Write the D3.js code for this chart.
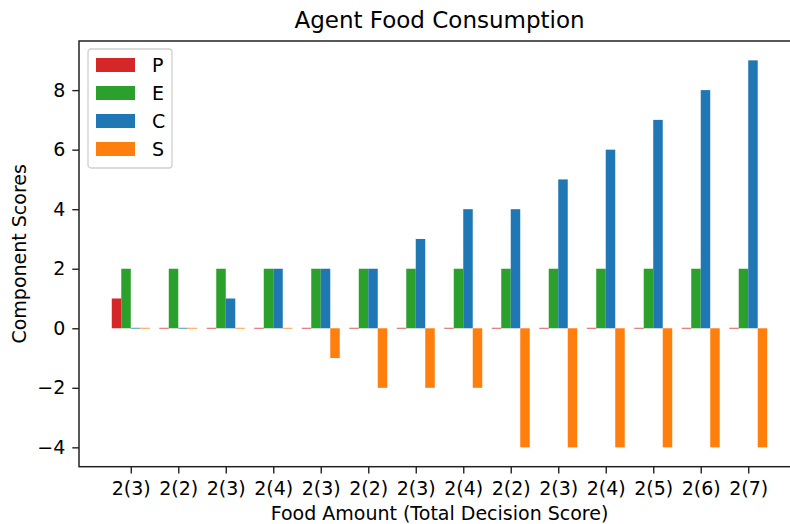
<!DOCTYPE html>
<html>
<head>
<meta charset="utf-8">
<script src="https://cdn.jsdelivr.net/npm/d3@7/dist/d3.min.js"></script>
<style>
  body { margin: 0; background: #fff; }
  svg { display: block; font-family: "DejaVu Sans", sans-serif; }
</style>
</head>
<body>
<div id="chart"></div>
<script>
// x tick labels: food amount (total decision score)
const categories = ["2(3)", "2(2)", "2(3)", "2(4)", "2(3)", "2(2)", "2(3)", "2(4)", "2(2)", "2(3)", "2(4)", "2(5)", "2(6)", "2(7)"];
const seriesNames = ["P", "E", "C", "S"];
const pValues = [1, 0, 0, 0, 0, 0, 0, 0, 0, 0, 0, 0, 0, 0];
const eValues = [2, 2, 2, 2, 2, 2, 2, 2, 2, 2, 2, 2, 2, 2];
const cValues = [0, 0, 1, 2, 2, 2, 3, 4, 4, 5, 6, 7, 8, 9];
const sValues = [0, 0, 0, 0, -1, -2, -2, -2, -4, -4, -4, -4, -4, -4];
const yTicks = [-4, -2, 0, 2, 4, 6, 8];

const seriesValues = [pValues, eValues, cValues, sValues];
const colors = ["#d62728", "#2ca02c", "#1f77b4", "#ff7f0e"];

const width = 790, height = 524;
const plotLeft = 79, plotRight = 800, plotTop = 41, plotBottom = 466.7;
const barWidth = 0.2;
const fontSize = "19px";

const svg = d3.select("#chart")
  .append("svg")
  .attr("width", width)
  .attr("height", height);

// matplotlib-like limits: data span plus 5% margins
const x = d3.scaleLinear()
  .domain([-0.4 - 0.69, categories.length - 1 + 0.4 + 0.69])
  .range([plotLeft, plotRight]);

const y = d3.scaleLinear()
  .domain([-4.65, 9.65])
  .range([plotBottom, plotTop]);

// bars
const bars = [];
seriesValues.forEach((vals, s) => {
  vals.forEach((v, i) => {
    bars.push({ s, i, v });
  });
});

svg.append("g")
  .selectAll("rect")
  .data(bars)
  .join("rect")
  .attr("x", (d) => x(d.i + (d.s - 2) * barWidth))
  .attr("width", (d) => x(barWidth) - x(0))
  .attr("y", (d) => Math.min(y(d.v), y(0)) - (d.v === 0 ? 0.5 : 0))
  .attr("height", (d) => Math.max(1, Math.abs(y(d.v) - y(0))))
  .attr("fill", (d) => colors[d.s])
  .attr("opacity", (d) => (d.v === 0 ? 0.75 : 1));

// axes
const xAxis = d3.axisBottom(x)
  .tickValues(d3.range(categories.length))
  .tickFormat((i) => categories[i])
  .tickSize(6.7)
  .tickPadding(8)
  .tickSizeOuter(0);

const yAxis = d3.axisLeft(y)
  .tickValues(yTicks)
  .tickFormat((d) => (d < 0 ? "\u2212" + Math.abs(d) : d))
  .tickSize(6.7)
  .tickPadding(7)
  .tickSizeOuter(0);

const gx = svg.append("g")
  .attr("transform", `translate(0,${plotBottom})`)
  .call(xAxis);
const gy = svg.append("g")
  .attr("transform", `translate(${plotLeft},0)`)
  .call(yAxis);

[gx, gy].forEach((g) => {
  g.select(".domain").remove();
  g.selectAll(".tick line").attr("stroke", "#222").attr("stroke-width", 1.4);
  g.selectAll(".tick text")
    .attr("fill", "#000")
    .style("font-size", fontSize)
    .style("font-family", "DejaVu Sans, sans-serif");
});

// spines
svg.append("rect")
  .attr("x", plotLeft)
  .attr("y", plotTop)
  .attr("width", plotRight - plotLeft)
  .attr("height", plotBottom - plotTop)
  .attr("fill", "none")
  .attr("stroke", "#222")
  .attr("stroke-width", 1.5);

// title + labels
svg.append("text")
  .attr("x", (plotLeft + plotRight) / 2)
  .attr("y", 28)
  .attr("text-anchor", "middle")
  .style("font-size", "23px")
  .text("Agent Food Consumption");

svg.append("text")
  .attr("x", (plotLeft + plotRight) / 2)
  .attr("y", 520)
  .attr("text-anchor", "middle")
  .style("font-size", fontSize)
  .text("Food Amount (Total Decision Score)");

svg.append("text")
  .attr("transform", `translate(25.5,${(plotTop + plotBottom) / 2}) rotate(-90)`)
  .attr("text-anchor", "middle")
  .style("font-size", fontSize)
  .text("Component Scores");

// legend
const legend = svg.append("g").attr("transform", "translate(88,49)");
legend.append("rect")
  .attr("width", 84)
  .attr("height", 119)
  .attr("rx", 3)
  .attr("fill", "#fff")
  .attr("fill-opacity", 0.8)
  .attr("stroke", "#d0d0d0")
  .attr("stroke-width", 1.3);

const item = legend.selectAll("g.item")
  .data(seriesNames)
  .join("g")
  .attr("class", "item")
  .attr("transform", (d, k) => `translate(8,${16 + k * 28})`);

item.append("rect")
  .attr("y", -7)
  .attr("width", 39)
  .attr("height", 14)
  .attr("fill", (d, k) => colors[k]);

item.append("text")
  .attr("x", 56)
  .attr("dy", "0.36em")
  .style("font-size", fontSize)
  .text((d) => d);
</script>
</body>
</html>
